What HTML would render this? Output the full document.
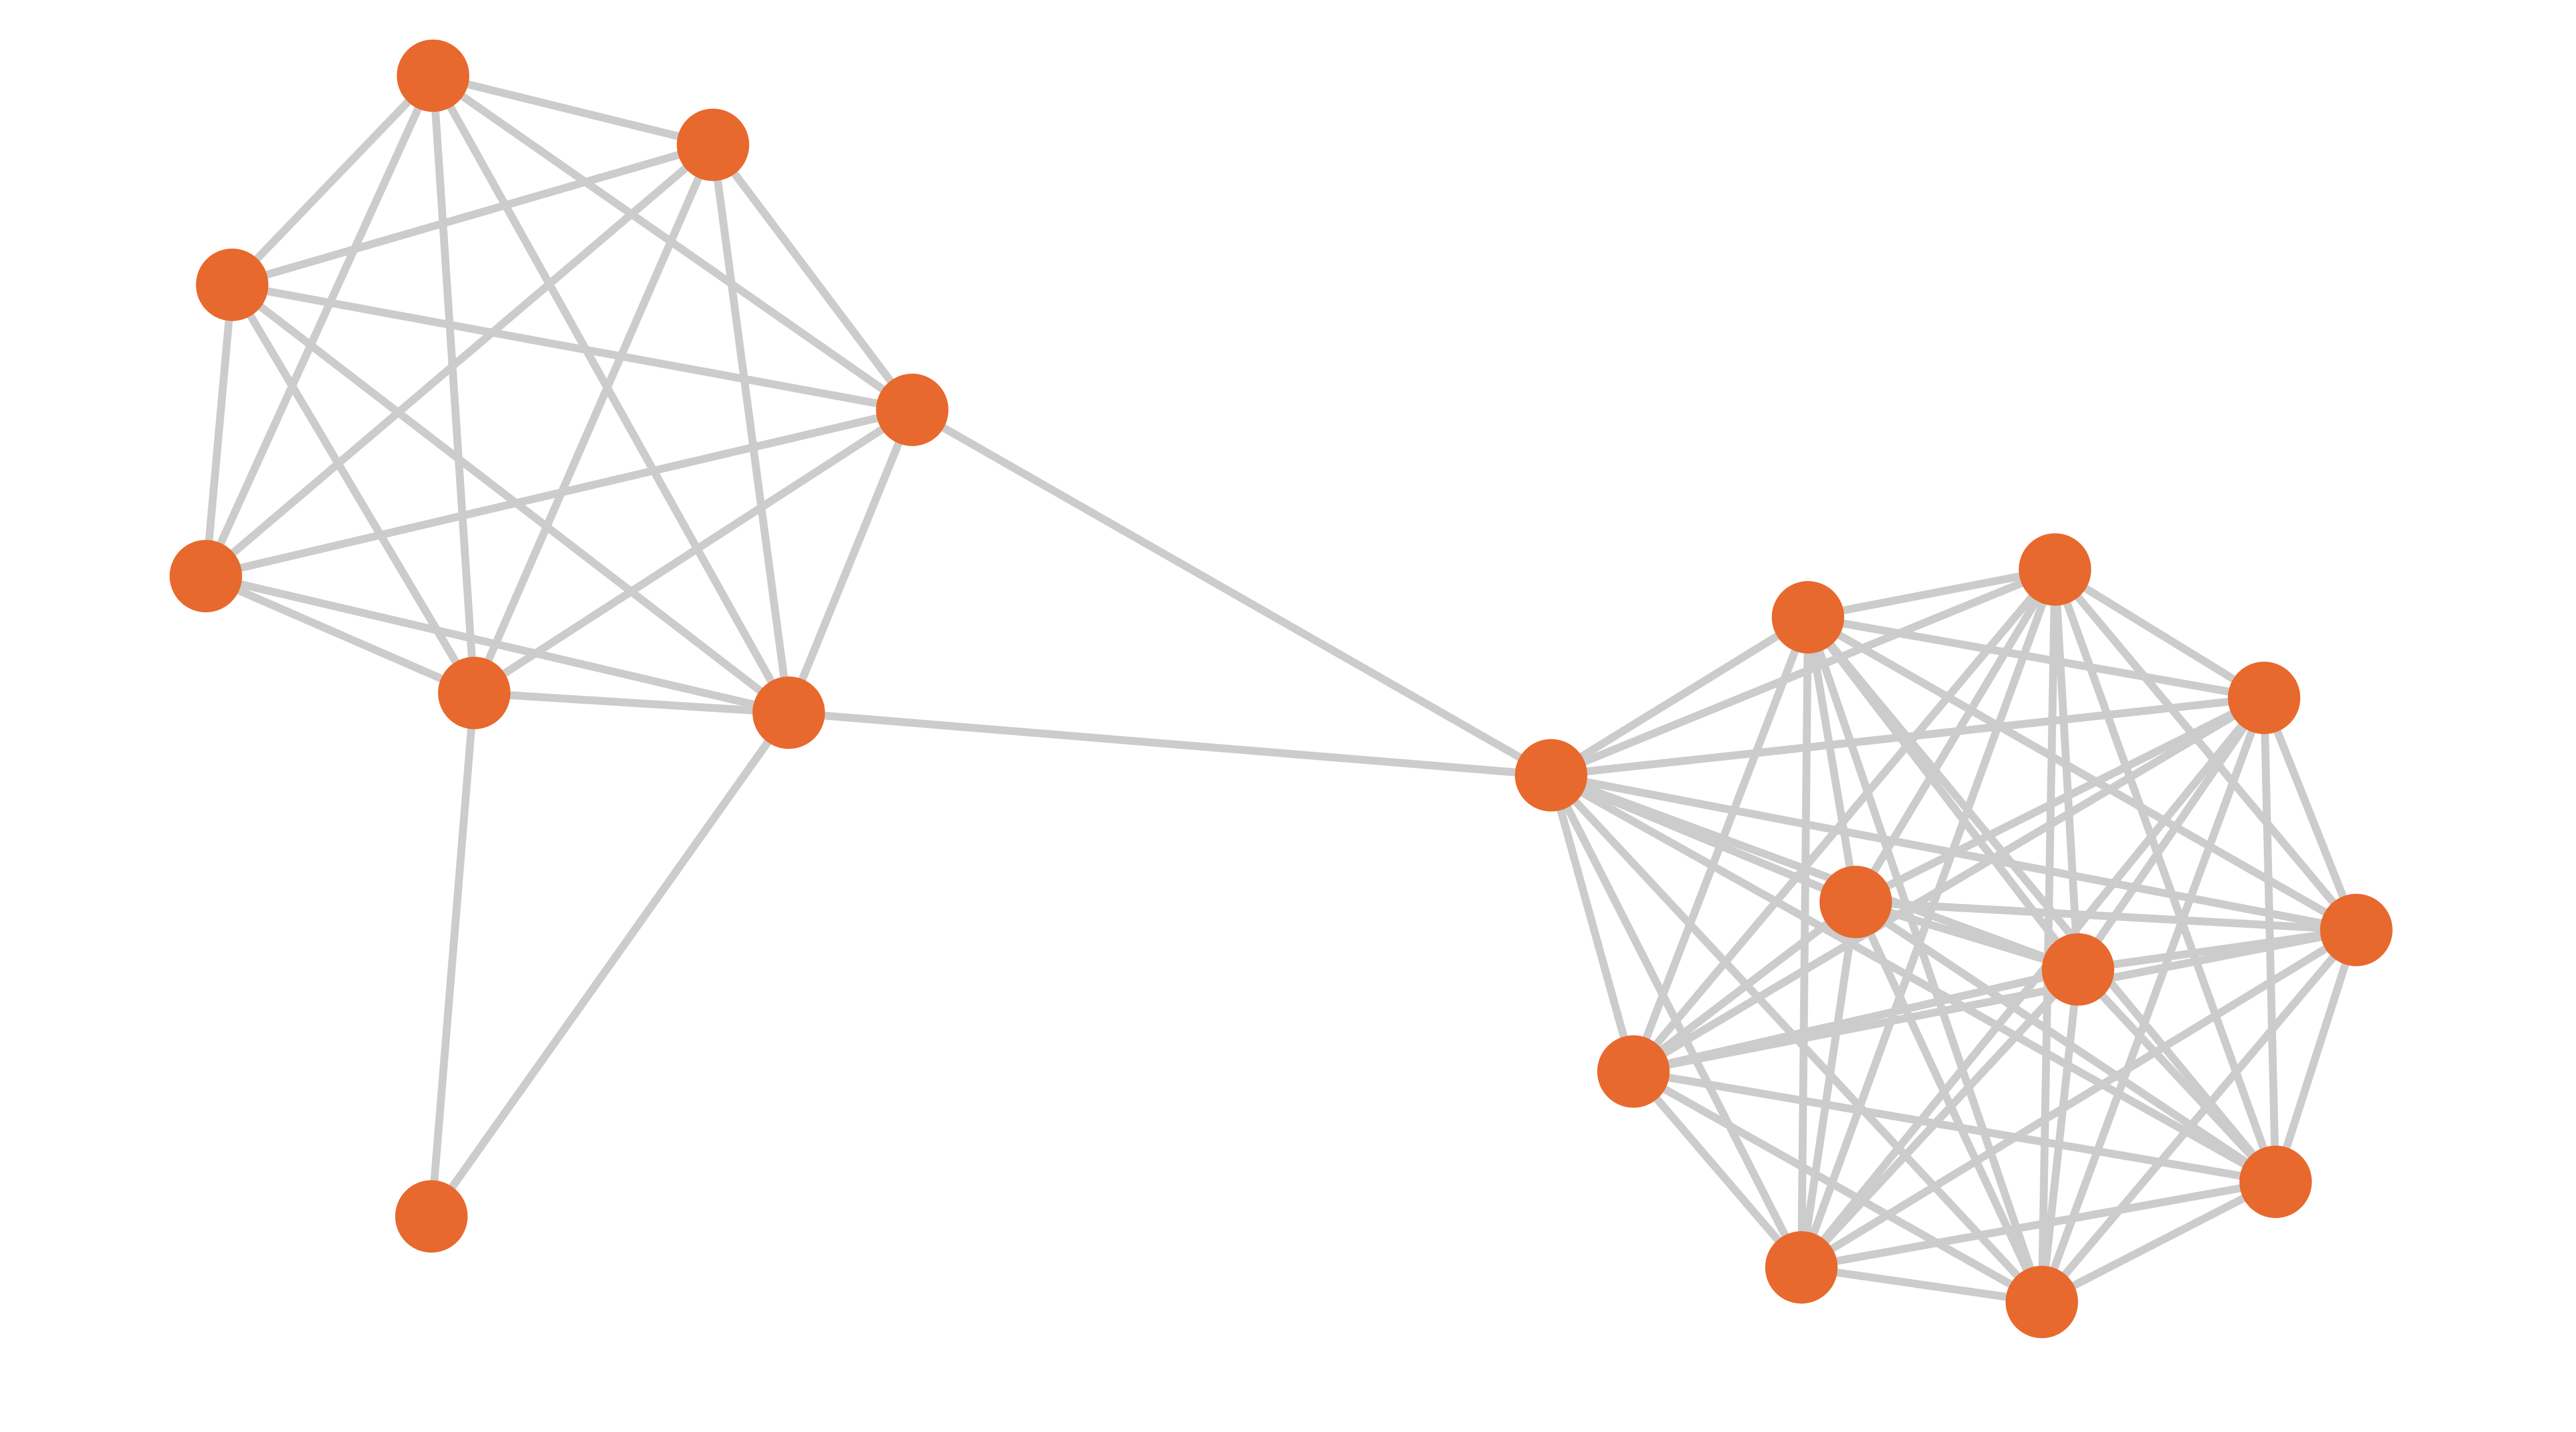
<!DOCTYPE html>
<html><head><meta charset="utf-8"><style>
html,body{margin:0;padding:0;background:#fff;}
svg{display:block;width:5200px;height:2780px;}
</style></head><body>
<svg id="g" viewBox="0 0 1627 870" preserveAspectRatio="none" xmlns="http://www.w3.org/2000/svg"></svg>
<script>
var N={A:[263,46],B:[433,88],C:[141,173],D:[554,249],E:[125,350],F:[288,421],G:[479,433],H:[262,739],
I:[942,471],J:[1098,375],K:[1248,346],L:[1375,424],M:[1431,565],N:[1127,548],O:[1262,589],P:[992,651],Q:[1382,718],R:[1094,770],S:[1240,791]};
var E=[];
function clique(s){for(var i=0;i<s.length;i++)for(var j=i+1;j<s.length;j++)E.push([s[i],s[j]]);}
clique("ABCDEFG".split(""));
clique("IJKLMNOPQRS".split(""));
E.push(["H","F"],["H","G"],["D","I"],["G","I"]);
var g=document.getElementById("g"),h="";
E.forEach(function(e){var a=N[e[0]],b=N[e[1]];h+='<line x1="'+a[0]+'" y1="'+a[1]+'" x2="'+b[0]+'" y2="'+b[1]+'" stroke="#cccccc" stroke-width="4.8"/>';});
for(var k in N){h+='<circle cx="'+N[k][0]+'" cy="'+N[k][1]+'" r="22" fill="#e8692d"/>';}
g.innerHTML=h;
</script>
</body></html>
